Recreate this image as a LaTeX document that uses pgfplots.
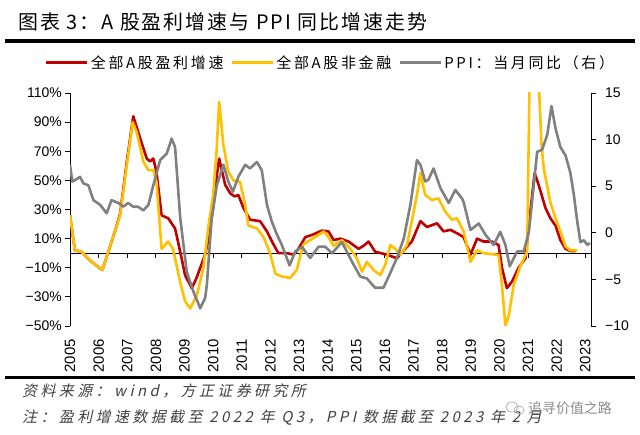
\documentclass[border=0pt]{standalone}
\usepackage{pgfplots}
\usepackage{pgfplotstable}
\pgfplotsset{compat=1.18}
\usepackage{fontspec}
\setmainfont{Liberation Sans}
\newfontfamily\cjk{Noto Sans CJK SC}
\newfontfamily\cjktitle[LetterSpace=10]{Noto Sans CJK SC}
\newfontfamily\cjkleg[LetterSpace=18]{Noto Sans CJK SC}
\newfontfamily\cjkit[FakeSlant=0.22,LetterSpace=23]{Noto Sans CJK SC}
\definecolor{cred}{HTML}{C00000}
\definecolor{cyel}{HTML}{FFC000}
\definecolor{cgray}{HTML}{808080}

\pgfplotstableread{
x y
2005.00 26
2005.17 2
2005.40 1
2005.76 -6
2006.13 -11.5
2006.34 1
2006.57 15
2006.75 27
2006.98 62
2007.21 94
2007.45 79
2007.68 65
2007.80 63
2007.91 65
2008.02 56
2008.20 26
2008.43 24
2008.67 17
2008.85 1
2009.02 -15
2009.25 -24
2009.40 -18
2009.55 -10
2009.72 -1
2009.84 10
2010.00 31
2010.12 52
2010.21 65
2010.42 47
2010.60 41
2010.75 39
2010.88 40
2011.06 31
2011.29 23
2011.64 22
2011.88 15
2012.11 6
2012.28 0
2012.58 0
2012.81 -1
2012.98 3
2013.22 11
2013.45 12.5
2013.80 15.5
2014.03 15
2014.21 9
2014.44 10
2014.73 8
2015.08 3
2015.25 5
2015.43 8
2015.66 1
2016.07 -1
2016.42 -3.5
2016.66 2
2016.94 8
2017.24 22
2017.47 18
2017.82 20.5
2018.05 15
2018.29 16
2018.52 13.7
2018.75 11
2018.99 -1
2019.22 10
2019.45 8
2019.74 8
2019.97 5.6
2020.09 -10
2020.26 -24
2020.44 -19.5
2020.67 -10
2020.91 -3.5
2021.08 28.5
2021.23 55
2021.37 47
2021.61 31
2021.78 24
2021.96 19
2022.13 9
2022.31 3
2022.48 1.5
2022.66 1.5
}\redtab

\pgfplotstableread{
x y
2005.00 26
2005.17 2
2005.40 1
2005.76 -6
2006.13 -11.5
2006.34 1
2006.57 15
2006.75 26
2006.98 60
2007.19 90
2007.33 83
2007.56 63
2007.74 57
2007.91 57
2008.02 49
2008.20 3
2008.43 8
2008.60 3
2008.85 -20
2009.02 -33
2009.20 -38
2009.43 -29
2009.66 -10
2009.84 19
2010.00 40
2010.12 70
2010.21 104
2010.36 74
2010.53 56
2010.71 50
2010.94 49
2011.12 33
2011.23 19
2011.53 17
2011.76 11
2011.99 0
2012.17 -14
2012.40 -16
2012.69 -17
2012.92 -11.5
2013.15 6
2013.39 9
2013.68 12.5
2013.86 15
2014.03 11
2014.21 5
2014.50 9
2014.79 3
2015.02 -3.5
2015.20 -12.7
2015.37 -6
2015.60 -11.5
2015.84 -15
2016.01 -8
2016.19 5.6
2016.36 3
2016.54 -1
2016.77 5.6
2016.94 22
2017.12 40
2017.24 55
2017.41 40
2017.64 36.5
2017.87 37.7
2018.11 28.5
2018.34 23
2018.52 24
2018.75 15
2018.99 -6
2019.22 2
2019.45 0
2019.74 -0.7
2019.97 -1.2
2020.09 -22
2020.21 -50
2020.33 -42.5
2020.50 -22
2020.73 -9
2020.97 1
2021.05 115
2021.15 250
2021.28 250
2021.38 115
2021.47 75
2021.55 58
2021.78 35
2021.96 24
2022.13 15
2022.31 4.6
2022.48 2
2022.72 2
}\yeltab

\pgfplotstableread{
x y
2005.00 7.3
2005.08 5.5
2005.20 5.7
2005.35 6.0
2005.47 5.3
2005.64 5.1
2005.82 3.5
2006.05 3.0
2006.28 2.1
2006.45 3.5
2006.69 3.2
2006.86 2.8
2007.03 3.2
2007.21 2.8
2007.38 2.8
2007.56 2.4
2007.74 3.0
2007.91 5.1
2008.15 7.8
2008.38 8.5
2008.55 10.1
2008.67 9.2
2008.85 1.6
2009.08 -4.2
2009.31 -6.3
2009.55 -8.1
2009.72 -7.0
2009.78 -5.6
2009.95 1.6
2010.13 5.1
2010.36 7.3
2010.53 5.5
2010.69 4.4
2010.88 6.0
2011.12 7.3
2011.29 6.9
2011.53 7.6
2011.70 6.7
2011.88 3.0
2012.05 1.2
2012.23 -0.2
2012.40 -1.3
2012.67 -3.5
2012.87 -2.0
2013.10 -1.5
2013.39 -2.7
2013.68 -1.5
2013.92 -1.5
2014.15 -2.2
2014.50 -1.0
2014.85 -3.1
2015.14 -4.7
2015.37 -4.9
2015.66 -5.9
2015.95 -5.9
2016.19 -4.3
2016.42 -2.7
2016.66 -0.6
2016.89 3.0
2017.12 7.8
2017.24 7.3
2017.41 5.5
2017.52 5.7
2017.70 6.9
2017.94 4.8
2018.23 3.2
2018.46 4.6
2018.69 3.7
2018.75 3.3
2018.99 0.3
2019.28 1.0
2019.51 -0.2
2019.80 -1.3
2020.03 0.1
2020.21 -1.3
2020.36 -3.6
2020.62 -2.0
2020.85 -2.0
2021.03 0.1
2021.20 5.1
2021.32 8.7
2021.49 8.9
2021.67 10.5
2021.82 13.6
2021.96 11.2
2022.13 9.2
2022.31 8.3
2022.48 6.4
2022.60 4.1
2022.72 1.2
2022.83 -1.0
2022.95 -0.8
2023.07 -1.3
2023.16 -1.1
}\graytab

\begin{document}
\begin{tikzpicture}
\useasboundingbox (0,0) rectangle (640bp,435bp);
\node[anchor=west, inner sep=0pt] at (18bp,413bp) {\cjktitle\fontsize{20}{20}\selectfont 图表 3：A 股盈利增速与 PPI 同比增速走势};
\draw[line width=3.5bp] (5bp,394bp) -- (635bp,394bp);

\begin{axis}[
  at={(70bp,109bp)}, anchor=south west, scale only axis,
  width=521bp, height=233bp,
  xmin=2005, xmax=2023.2, ymin=-50, ymax=110,
  axis y line*=left, axis x line=none,
  clip mode=individual,
  ytick={-50,-30,-10,10,30,50,70,90,110},
  yticklabels={−50\%,−30\%,−10\%,10\%,30\%,50\%,70\%,90\%,110\%},
  yticklabel style={anchor=east, inner sep=0pt},
  yticklabel shift=3bp,
  tick align=outside, major tick length=5bp,
  tick label style={font=\fontsize{14}{14}\selectfont},
  axis line style={line width=0.9bp},
  every tick/.style={black, line width=0.9bp},
  legend columns=3,
  legend style={at={(0.5,1)}, anchor=center, yshift=30bp, draw=none, fill=none,
    font=\cjkleg\fontsize{15}{15}\selectfont, inner sep=0pt,
    /tikz/every even column/.append style={column sep=5bp}},
  legend image code/.code={\draw[#1, line width=3bp] (0bp,0bp) -- (41bp,0bp);},
]
\draw[black, line width=0.9bp] (axis cs:2005,0) -- (axis cs:2023.2,0);
\pgfplotsinvokeforeach{2006,2007,...,2023}{\draw[black, line width=0.9bp] (axis cs:#1,0) -- ++(0bp,-5bp);}
\pgfplotsinvokeforeach{2005,2006,...,2023}{\node[rotate=90, anchor=east, inner sep=0pt, font=\fontsize{15}{15}\selectfont] at ([yshift=-13bp]axis cs:#1,-50) {#1};}
\addplot[cred, line width=2.6bp, line join=round] table {\redtab};
\addlegendentry{全部A股盈利增速}
\addplot[cyel, line width=2.6bp, line join=round] table {\yeltab};
\addlegendentry{全部A股非金融}
\addlegendimage{cgray, line width=2.6bp}
\addlegendentry{PPI：当月同比（右）}
\end{axis}

\begin{axis}[
  at={(70bp,109bp)}, anchor=south west, scale only axis,
  width=521bp, height=233bp,
  xmin=2005, xmax=2023.2, ymin=-10, ymax=15,
  axis y line*=right, axis x line=none,
  ytick={-10,-5,0,5,10,15},
  yticklabels={−10,−5,0,5,10,15},
  yticklabel style={anchor=west, inner sep=0pt},
  yticklabel shift=9bp,
  tick align=outside, major tick length=5bp,
  tick label style={font=\fontsize{14}{14}\selectfont},
  axis line style={line width=0.9bp},
  every tick/.style={black, line width=0.9bp},
]
\addplot[cgray, line width=2.6bp, line join=round] table {\graytab};
\end{axis}

\draw[line width=3bp] (5bp,57bp) -- (635bp,57bp);
\node[anchor=west, inner sep=0pt, text=black!75] at (22bp,44bp) {\cjkit\fontsize{15}{15}\selectfont 资料来源：wind，方正证券研究所};
\node[anchor=west, inner sep=0pt, text=black!75] at (22bp,17bp) {\cjkit\fontsize{15}{15}\selectfont 注：盈利增速数据截至 2022 年 Q3，PPI 数据截至 2023 年 2 月};
\draw[black!30, line width=0.8bp] (512bp,28bp) ellipse (6bp and 5bp);
\draw[black!30, line width=0.8bp] (519bp,25bp) ellipse (5bp and 4bp);
\node[anchor=west, inner sep=0pt, text=black!45] at (528bp,27bp) {\cjk\fontsize{14}{14}\selectfont 追寻价值之路};
\end{tikzpicture}
\end{document}
